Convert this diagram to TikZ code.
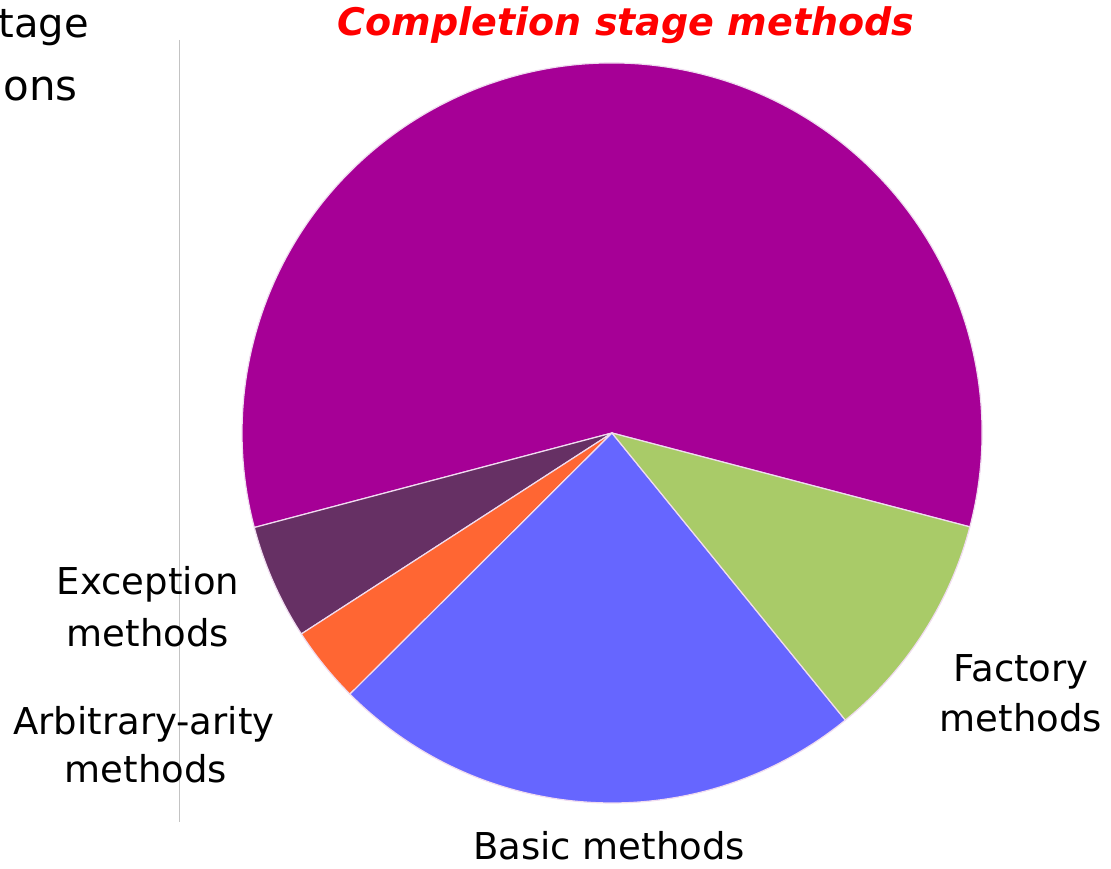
\documentclass[tikz,border=0pt]{standalone}
\usepackage{fontspec}
\setmainfont{DejaVu Sans}
\newfontfamily\titlefont{DejaVu Sans}
\definecolor{cpurple}{RGB}{166,0,150}
\definecolor{cdark}{RGB}{102,48,100}
\definecolor{corange}{RGB}{255,102,51}
\definecolor{cblue}{RGB}{102,102,255}
\definecolor{cgreen}{RGB}{169,203,104}
\definecolor{cborder}{RGB}{240,220,240}
\begin{document}
\begin{tikzpicture}[x=1pt,y=1pt,
  slice/.style={draw=cborder,line width=1.2pt,line join=round},
  lbl/.style={inner sep=0pt,anchor=base,font=\fontsize{37}{44}\selectfont},
  toplbl/.style={inner sep=0pt,anchor=base east,font=\fontsize{40}{48}\selectfont},
  title/.style={inner sep=0pt,anchor=base,text=red,font=\titlefont\bfseries\itshape\fontsize{38}{46}\selectfont}]
\useasboundingbox (0,0) rectangle (1111,869);
\fill[white] (0,0) rectangle (1111,869);
\def\R{370}
\coordinate (c) at (612,436);
% gray divider
\coordinate (g1) at (179,829);
\coordinate (g2) at (179,47);
\draw[color={rgb,255:red,195;green,195;blue,195},line width=1pt] (g1) -- (g2);
% slices
\filldraw[slice,fill=cpurple] (c) -- ++(-14.7:\R) arc[start angle=-14.7,end angle=194.8,radius=\R] -- cycle;
\filldraw[slice,fill=cdark] (c) -- ++(194.8:\R) arc[start angle=194.8,end angle=212.9,radius=\R] -- cycle;
\filldraw[slice,fill=corange] (c) -- ++(212.9:\R) arc[start angle=212.9,end angle=224.9,radius=\R] -- cycle;
\filldraw[slice,fill=cblue] (c) -- ++(224.9:\R) arc[start angle=224.9,end angle=309.1,radius=\R] -- cycle;
\filldraw[slice,fill=cgreen] (c) -- ++(309.1:\R) arc[start angle=309.1,end angle=345.3,radius=\R] -- cycle;
% texts
\node[title] (ttl) at (626,833) {Completion stage methods};
\node[toplbl] (tl1) at (89,831) {tage};
\node[toplbl,font=\fontsize{42}{50}\selectfont] (tl2) at (78,768) {ons};
\node[lbl] (exc1) at (148,274) {Exception};
\node[lbl] (exc2) at (148,222) {methods};
\node[lbl] (arb1) at (144,134) {Arbitrary-arity};
\node[lbl] (arb2) at (146,86) {methods};
\node[lbl] (fac1) at (1021,187) {Factory};
\node[lbl] (fac2) at (1021,137) {methods};
\node[lbl] (bas) at (609,9) {Basic methods};
\end{tikzpicture}
\end{document}
